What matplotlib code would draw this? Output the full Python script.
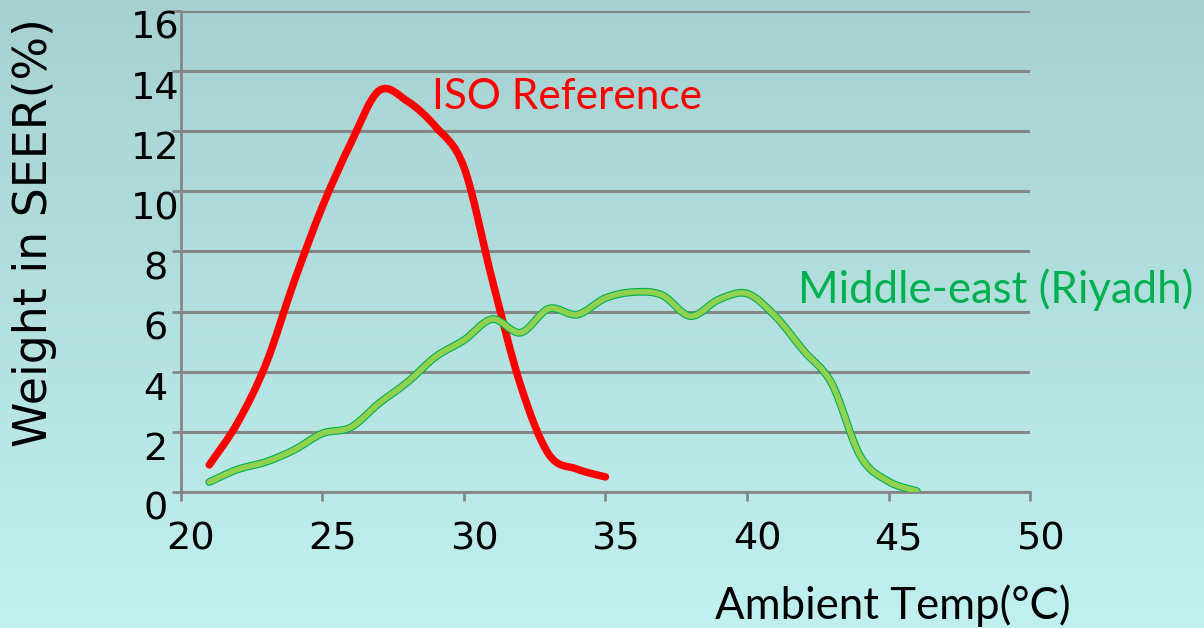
import numpy as np
import matplotlib
matplotlib.use("Agg")
import matplotlib.pyplot as plt
from matplotlib.path import Path
from matplotlib.patches import PathPatch
from matplotlib.transforms import ScaledTranslation

# data
iso_temp = [21, 22, 23, 24, 25, 26, 27, 28, 29, 30, 31, 32, 33, 34, 35]
iso_weight = [0.9, 2.3, 4.25, 7.0, 9.5, 11.6, 13.35, 13.0, 12.15, 10.8, 7.05, 3.55, 1.25, 0.76, 0.5]

riyadh_temp = [21, 22, 23, 24, 25, 26, 27, 28, 29, 30, 31, 32, 33, 34, 35, 36, 37, 38,
               39, 40, 41, 42, 43, 44, 45, 46]
riyadh_weight = [0.33, 0.75, 1.0, 1.4, 1.95, 2.15, 2.95, 3.65, 4.5, 5.05, 5.75, 5.3, 6.1,
                 5.9, 6.45, 6.65, 6.55, 5.85, 6.4, 6.6, 5.85, 4.7, 3.6, 1.2, 0.35, 0.03]

x_ticks = [20, 25, 30, 35, 40, 45, 50]
y_ticks = [0, 2, 4, 6, 8, 10, 12, 14, 16]

RED = "#FF0000"
GREEN_DARK = "#00B050"
GREEN_LIGHT = "#92D050"
GRID = "#868686"


def smooth_path(xs, ys):
    # excel-like smoothed line: bezier segments with catmull-rom control points
    pts = np.column_stack([xs, ys]).astype(float)
    n = len(pts)
    verts = [pts[0]]
    codes = [Path.MOVETO]
    for i in range(n - 1):
        p0 = pts[i - 1] if i > 0 else pts[i]
        p1 = pts[i]
        p2 = pts[i + 1]
        p3 = pts[i + 2] if i + 2 < n else pts[i + 1]
        c1 = p1 + (p2 - p0) / 6.0
        c2 = p2 - (p3 - p1) / 6.0
        verts += [c1, c2, p2]
        codes += [Path.CURVE4] * 3
    return Path(verts, codes)


fig = plt.figure(figsize=(12.04, 6.28), dpi=100)

# gradient background
bg = fig.add_axes([0, 0, 1, 1])
top = np.array([166, 209, 208]) / 255
bottom = np.array([192, 240, 239]) / 255
t = np.linspace(0, 1, 256)[:, None]
grad = top[None, :] * (1 - t) + bottom[None, :] * t
bg.imshow(grad[:, None, :], aspect="auto", extent=[0, 1, 0, 1])
bg.axis("off")

ax = fig.add_axes([0.1503, 0.2166, 0.7052, 0.7659])
ax.patch.set_alpha(0)
ax.set_xlim(20, 50)
ax.set_ylim(0, 16)

ax.set_axisbelow(True)
ax.yaxis.grid(True, color=GRID, lw=2.2)
for s in ["top", "right"]:
    ax.spines[s].set_visible(False)
for s in ["left", "bottom"]:
    ax.spines[s].set_color(GRID)
    ax.spines[s].set_linewidth(2.0)

ax.set_xticks(x_ticks)
ax.set_yticks(y_ticks)
ax.tick_params(axis="both", direction="out", length=6.5, width=2.0, color=GRID,
               labelsize=27.5, labelcolor="black")
ax.tick_params(axis="y", pad=12)
ax.tick_params(axis="x", pad=15)

dy = ScaledTranslation(0, -0.14, fig.dpi_scale_trans)
for lab in ax.get_yticklabels():
    lab.set_horizontalalignment("center")
    lab.set_transform(lab.get_transform() + dy)
dx = ScaledTranslation(0.10, 0, fig.dpi_scale_trans)
for lab in ax.get_xticklabels():
    lab.set_transform(lab.get_transform() + dx)

# ISO curve
ax.add_patch(PathPatch(smooth_path(iso_temp, iso_weight), fill=False, edgecolor=RED,
                       lw=5.4, capstyle="round", joinstyle="round", zorder=3))
# Riyadh curve: dark outline with light green core
rpath = smooth_path(riyadh_temp, riyadh_weight)
ax.add_patch(PathPatch(rpath, fill=False, edgecolor=GREEN_DARK, lw=5.6,
                       capstyle="round", joinstyle="round", zorder=4))
ax.add_patch(PathPatch(rpath, fill=False, edgecolor=GREEN_LIGHT, lw=4.0,
                       capstyle="round", joinstyle="round", zorder=5))

ax.text(28.87, 13.15, "ISO Reference", color=RED, fontsize=30.5, family="Lato",
        ha="left", va="center")
ax.text(41.8, 6.72, "Middle-east (Riyadh)", color=GREEN_DARK, fontsize=31.5,
        family="Lato", ha="left", va="center", clip_on=False)

fig.text(0.029, 0.629, "Weight in SEER(%)", rotation=90, fontsize=33,
         ha="center", va="center", color="black")
fig.text(0.889, 0.036, "Ambient Temp(\u00b0C)", fontsize=31.5, family="Lato",
         ha="right", va="center", color="black")

fig.savefig("out.png", dpi=100)
